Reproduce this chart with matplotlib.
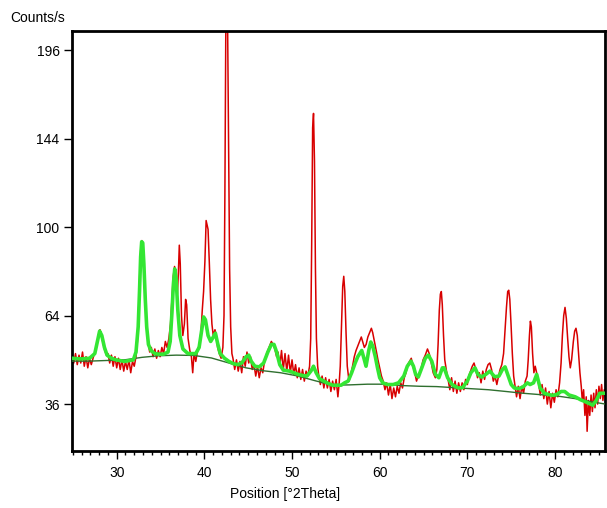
import numpy as np
import matplotlib.pyplot as plt
from matplotlib.ticker import FixedLocator, MultipleLocator

plt.rcParams['font.family'] = ['Liberation Sans', 'DejaVu Sans']

# measured pattern, (2theta, counts/s)
measured = [
    (24.9, 50), (25.1, 48), (25.3, 51), (25.5, 47.5), (25.7, 50.5), (25.9, 48),
    (26.1, 51.5), (26.3, 47), (26.5, 50), (26.7, 46.5), (26.9, 49.5), (27.1, 47.5),
    (27.35, 50), (27.54, 51.5), (27.74, 54), (27.94, 57.5), (28.09, 59), (28.24, 57),
    (28.44, 54.5), (28.64, 52), (28.84, 50.5), (29.0, 51), (29.2, 48), (29.4, 50.5),
    (29.6, 47), (29.8, 50), (30.0, 46.5), (30.2, 49.5), (30.4, 46), (30.6, 49),
    (30.8, 45.5), (31.0, 48.5), (31.2, 46), (31.4, 49), (31.6, 45), (31.8, 48.5),
    (32.0, 47), (32.2, 50), (32.36, 55), (32.5, 66), (32.63, 80), (32.74, 90),
    (32.86, 94), (32.98, 92), (33.1, 84), (33.24, 72), (33.4, 61), (33.58, 55),
    (33.76, 51.5), (33.95, 53), (34.15, 50), (34.35, 52.5), (34.55, 49.5), (34.75, 52),
    (34.95, 50), (35.15, 53), (35.35, 51), (35.55, 55), (35.75, 53), (35.95, 56),
    (36.14, 61), (36.3, 70), (36.45, 79), (36.6, 83), (36.76, 79), (36.92, 72),
    (37.03, 80), (37.14, 92), (37.25, 84), (37.39, 64), (37.54, 57), (37.72, 61),
    (37.86, 70), (37.98, 68), (38.14, 56), (38.34, 52), (38.52, 50), (38.67, 45),
    (38.82, 51), (39.02, 48.5), (39.22, 52), (39.42, 54), (39.61, 58), (39.76, 66),
    (39.91, 73), (40.06, 85), (40.2, 103), (40.31, 101), (40.42, 99), (40.56, 85),
    (40.71, 70), (40.86, 61), (41.01, 57), (41.21, 59), (41.36, 57), (41.51, 53),
    (41.71, 51), (41.91, 49.5), (42.11, 53), (42.24, 64), (42.34, 115), (42.44, 205),
    (42.54, 240), (42.64, 220), (42.76, 140), (42.88, 82), (43.0, 60), (43.14, 51),
    (43.26, 49.5), (43.46, 46), (43.66, 49), (43.86, 45.5), (44.06, 48.5), (44.26, 45),
    (44.46, 50), (44.66, 47), (44.86, 51.5), (45.06, 48), (45.26, 50), (45.46, 46),
    (45.66, 47.5), (45.86, 44), (46.06, 47), (46.26, 43.5), (46.46, 46.5), (46.66, 45),
    (46.86, 48.5), (47.04, 50.5), (47.24, 52), (47.44, 53.5), (47.64, 55), (47.84, 54),
    (48.04, 52.5), (48.24, 50), (48.4, 51.5), (48.6, 47), (48.8, 52), (49.0, 46),
    (49.2, 51), (49.4, 45.5), (49.6, 50.5), (49.8, 45), (50.0, 49), (50.2, 44.5),
    (50.4, 47.5), (50.6, 43.5), (50.8, 46.5), (51.0, 43), (51.2, 46), (51.4, 42.5),
    (51.6, 45.5), (51.8, 44), (52.0, 47), (52.13, 56), (52.24, 92), (52.35, 150),
    (52.45, 158), (52.56, 132), (52.67, 82), (52.78, 56), (52.92, 47), (53.03, 44.5),
    (53.23, 41.5), (53.43, 44), (53.63, 40.5), (53.83, 43.5), (54.03, 40.5), (54.23, 43),
    (54.43, 39.5), (54.63, 42.5), (54.83, 40), (55.03, 43), (55.23, 38), (55.38, 42),
    (55.5, 47), (55.64, 60), (55.78, 75), (55.9, 79), (56.02, 73), (56.16, 58),
    (56.3, 47), (56.5, 42.5), (56.7, 44.5), (56.9, 47), (57.1, 50), (57.3, 52),
    (57.5, 53.5), (57.7, 55), (57.9, 56.5), (58.05, 55), (58.25, 53), (58.45, 54),
    (58.65, 56.5), (58.85, 58), (59.05, 59.5), (59.2, 58), (59.4, 55), (59.6, 52),
    (59.8, 49), (60.0, 46.5), (60.2, 44), (60.4, 42.5), (60.6, 40), (60.8, 42),
    (61.0, 38.5), (61.2, 41.5), (61.4, 37.5), (61.6, 40.5), (61.8, 38), (62.0, 41),
    (62.2, 39), (62.4, 42), (62.6, 40.5), (62.8, 43.5), (63.0, 45), (63.2, 47.5),
    (63.4, 48.5), (63.6, 49.5), (63.8, 47), (64.0, 45), (64.2, 42.5), (64.45, 44.5),
    (64.7, 46), (64.95, 49), (65.2, 50.5), (65.45, 52.5), (65.65, 51), (65.85, 48.5),
    (66.1, 45), (66.35, 43.5), (66.52, 46), (66.66, 54), (66.8, 66), (66.92, 72),
    (67.03, 73), (67.14, 68), (67.28, 57), (67.42, 49), (67.62, 45.5), (67.8, 43),
    (68.0, 40), (68.2, 43.5), (68.4, 39.5), (68.6, 42.5), (68.8, 39), (69.0, 42),
    (69.2, 39.5), (69.4, 42), (69.6, 40), (69.8, 43), (70.0, 41.5), (70.16, 44),
    (70.36, 45.5), (70.56, 47), (70.76, 48), (70.96, 46), (71.16, 43.5), (71.36, 45),
    (71.56, 42), (71.76, 45.5), (71.96, 43), (72.16, 46), (72.36, 47.5), (72.56, 48),
    (72.76, 46), (72.96, 42.5), (73.16, 44), (73.36, 41.5), (73.56, 44), (73.73, 46),
    (73.93, 47.5), (74.13, 51), (74.3, 59), (74.46, 67), (74.6, 73), (74.72, 73.5),
    (74.84, 70), (74.98, 61), (75.13, 51), (75.28, 44), (75.41, 41.5), (75.61, 38),
    (75.81, 41), (76.01, 37.5), (76.21, 41), (76.41, 39), (76.61, 42.5), (76.81, 44),
    (76.94, 49), (77.08, 57), (77.19, 62), (77.3, 60), (77.44, 51), (77.59, 45),
    (77.74, 47), (77.94, 44.5), (78.12, 42), (78.32, 38.5), (78.52, 41.5), (78.72, 37.5),
    (78.92, 40.5), (79.12, 36), (79.32, 39.5), (79.52, 35), (79.72, 39), (79.92, 36.5),
    (80.12, 40), (80.32, 38), (80.52, 42), (80.69, 48), (80.84, 57), (80.99, 64),
    (81.14, 67), (81.29, 63), (81.44, 56), (81.59, 50), (81.74, 46.5), (81.89, 49),
    (82.09, 55), (82.24, 58.5), (82.39, 59.5), (82.54, 57), (82.69, 51), (82.84, 45),
    (82.99, 41), (83.11, 37), (83.26, 40), (83.41, 33), (83.56, 38), (83.66, 29),
    (83.81, 37), (83.96, 33), (84.11, 38.5), (84.26, 34), (84.41, 39), (84.56, 35),
    (84.71, 40), (84.86, 36), (85.01, 41), (85.16, 37.5), (85.31, 41.5), (85.46, 37),
    (85.61, 40), (85.76, 38),
]

# calculated profile
calculated = [
    (24.9, 49.5), (25.9, 49.3), (26.9, 49.5), (27.5, 51), (27.8, 55), (28.05, 58.5),
    (28.3, 57), (28.6, 53), (28.9, 50.5), (29.4, 49.5), (29.9, 49.0), (30.9, 48.5),
    (31.9, 49.0), (32.2, 51.5), (32.45, 60), (32.6, 73), (32.73, 87), (32.85, 93.5),
    (32.97, 93), (33.1, 84), (33.26, 70), (33.42, 60), (33.62, 54), (33.9, 52),
    (34.35, 51), (34.85, 50.8), (35.35, 50.8), (35.85, 51.5), (36.1, 55), (36.3, 65),
    (36.47, 76), (36.62, 82), (36.78, 78), (36.97, 66), (37.2, 57), (37.55, 52.5),
    (38.13, 51), (38.62, 51), (39.02, 51), (39.4, 53), (39.7, 59), (39.92, 63.5),
    (40.12, 62.5), (40.42, 57), (40.72, 55), (41.02, 56.5), (41.26, 57.8), (41.5, 54.5),
    (41.8, 51), (42.3, 49.5), (42.8, 48.5), (43.3, 47.8), (43.8, 47.5), (44.26, 48.0),
    (44.76, 50.0), (45.06, 50.5), (45.36, 48.5), (45.76, 47.0), (46.26, 46.8), (46.76, 48.0),
    (47.24, 51.5), (47.64, 54.0), (47.94, 54.0), (48.24, 51.5), (48.6, 47.5), (49.0, 45.8),
    (49.7, 45.5), (50.2, 45.0), (50.7, 44.5), (51.2, 44.2), (51.7, 44.0), (52.15, 45.5),
    (52.45, 47.0), (52.75, 45), (53.13, 43.2), (53.63, 42.5), (54.13, 41.8), (54.63, 41.3),
    (55.1, 41.3), (55.6, 41.3), (56.0, 42), (56.4, 42.5), (56.8, 45), (57.2, 48),
    (57.5, 50), (57.95, 52.0), (58.2, 49.5), (58.44, 47), (58.75, 52), (58.98, 54.8),
    (59.2, 53.5), (59.5, 50), (59.75, 46.5), (60.0, 43.5), (60.35, 42), (60.85, 41.5),
    (61.55, 41.5), (62.15, 42), (62.75, 44), (63.15, 47), (63.57, 48.6), (63.85, 47),
    (64.1, 44.5), (64.4, 43.7), (64.8, 46.5), (65.2, 49.5), (65.55, 50.5), (65.95, 48.5),
    (66.35, 44.5), (66.75, 43.5), (67.15, 46.5), (67.35, 46.5), (67.75, 43.5), (68.25, 41.5),
    (68.95, 40.5), (69.45, 40.6), (70.0, 42.5), (70.4, 45), (70.87, 46.5), (71.2, 44.5),
    (71.6, 43.7), (72.1, 44.5), (72.58, 45.5), (73.1, 43.8), (73.6, 44), (74.0, 46),
    (74.3, 46.8), (74.6, 44.5), (75.0, 41.5), (75.35, 40.5), (75.85, 40.3), (76.35, 40.8),
    (76.85, 42), (77.15, 41.5), (77.55, 42), (77.91, 44.5), (78.3, 40.5), (78.8, 39),
    (79.3, 38.6), (79.8, 38.4), (80.3, 38.8), (80.7, 39.5), (81.1, 39.5), (81.6, 38.5),
    (82.3, 38.0), (82.9, 37.2), (83.5, 36.6), (84.3, 35.7), (84.7, 37), (85.1, 39),
    (85.75, 39),
]

# background line
background = [
    (24.9, 48.6), (26.9, 48.6), (28.9, 48.8), (30.9, 49.0), (32.9, 49.8), (34.8, 50.3),
    (36.8, 50.5), (38.8, 50.4), (40.8, 49.6), (42.8, 48.0), (44.75, 46.5), (46.75, 45.6),
    (48.7, 45.0), (50.7, 44.0), (52.65, 42.6), (54.65, 41.3), (56.6, 41.4), (58.6, 41.6),
    (60.55, 41.6), (62.55, 41.2), (64.5, 41.0), (66.5, 40.9), (68.45, 40.6), (70.4, 40.3),
    (72.4, 40.0), (74.4, 39.5), (76.35, 39.0), (78.35, 38.6), (80.3, 38.2), (82.3, 37.5),
    (84.25, 36.6), (85.75, 36.0),
]

y_ticks = [36, 64, 100, 144, 196]
x_ticks = [30, 40, 50, 60, 70, 80]

fig = plt.figure(figsize=(6.07, 5.08), dpi=100)
ax = fig.add_axes([72 / 607, 57 / 508, 533 / 607, 420 / 508])

mx, my = zip(*measured)
cx, cy = zip(*calculated)
bx, by = zip(*background)
ax.plot(mx, my, color='#d80000', lw=1.1, zorder=2)
ax.plot(bx, by, color='#2f6f2f', lw=1.0, zorder=3)
ax.plot(cx, cy, color='#33e633', lw=2.6, zorder=4)

# square-root intensity axis
ax.set_yscale('function', functions=(lambda v: np.sqrt(np.clip(v, 0, None)),
                                     lambda v: v ** 2))
ax.set_ylim(24.4, 208.3)
ax.set_xlim(24.9, 85.7)

ax.yaxis.set_major_locator(FixedLocator(y_ticks))
ax.yaxis.set_minor_locator(FixedLocator([]))
ax.set_yticklabels([str(t) for t in y_ticks])
ax.xaxis.set_major_locator(FixedLocator(x_ticks))
ax.xaxis.set_minor_locator(MultipleLocator(1))

for s in ax.spines.values():
    s.set_linewidth(2)
ax.tick_params(axis='both', which='major', labelsize=10, length=6, width=1,
               direction='out', colors='black')
ax.tick_params(axis='x', which='minor', length=3, width=1)
ax.tick_params(axis='x', pad=5)
ax.tick_params(axis='y', pad=3)

fig.text(10 / 607, 1 - 18 / 508, 'Counts/s', fontsize=10, va='center', ha='left')
fig.text(285 / 607, 1 - 494 / 508, 'Position [°2Theta]', fontsize=10,
         va='center', ha='center')

fig.savefig('out.png', dpi=100)
